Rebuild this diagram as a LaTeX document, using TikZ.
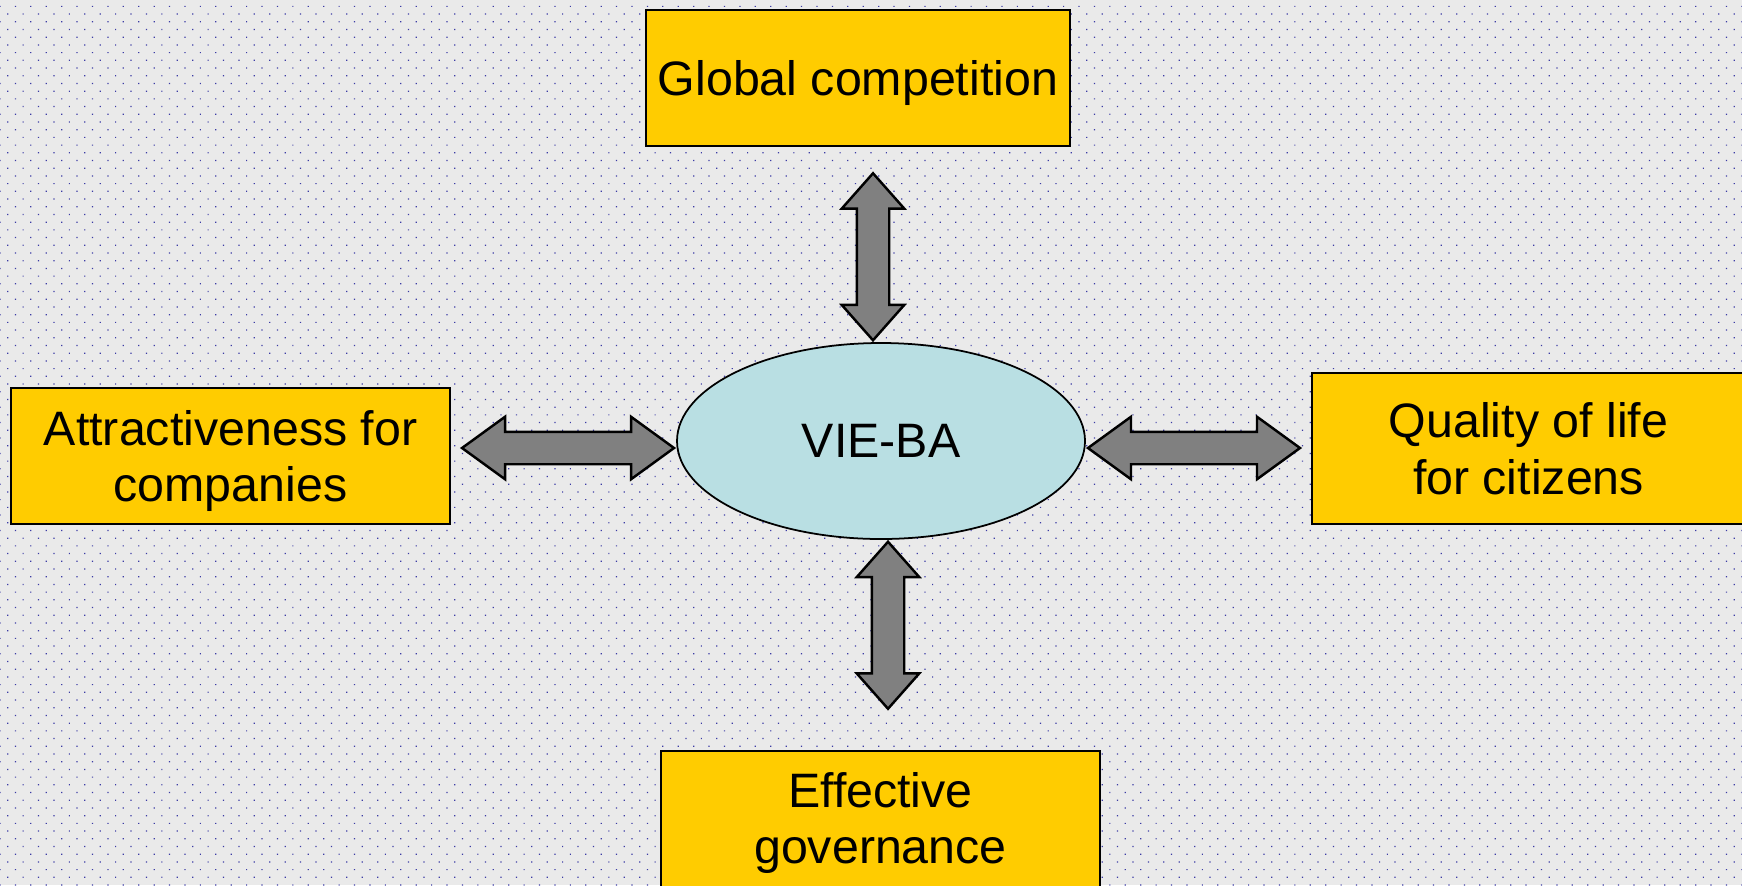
\documentclass[tikz,border=0pt]{standalone}
\usepackage{fontspec}
\setmainfont{Liberation Sans}
\usetikzlibrary{shapes.geometric}
\usetikzlibrary{shapes.arrows}
\usetikzlibrary{patterns.meta}
\definecolor{boxyellow}{RGB}{255,204,0}
\definecolor{hubblue}{RGB}{185,223,227}
\definecolor{paper}{RGB}{234,234,234}
\definecolor{dotblue}{RGB}{60,60,165}

\begin{document}
\begin{tikzpicture}[
      every node/.style={align=center,font=\fontsize{13.75pt}{16.2pt}\selectfont},
      topic/.style={shape=rectangle,draw,line width=0.6pt,fill=boxyellow,inner sep=0pt,minimum width=4.39cm,minimum height=1.36cm},
      hub/.style={shape=ellipse,draw,line width=0.5pt,fill=hubblue,inner sep=0pt,minimum width=4.08cm,minimum height=1.96cm},
      link/.style={shape=double arrow,draw,line width=0.7pt,fill=gray,inner xsep=0pt,inner ysep=0.15cm,minimum width=0.6cm,double arrow head extend=0.15cm},
      uplink/.style={link,rotate=90,minimum height=1.67cm,double arrow tip angle=83},
      sidelink/.style={link,minimum height=2.12cm,double arrow tip angle=72}]
          \useasboundingbox (0,0) rectangle (17.42,8.85);
          \clip (0,0) rectangle (17.42,8.85);
          \fill[paper] (0,0) rectangle (17.42,8.85);
          \fill[pattern={Dots[distance=1.09mm,radius=0.085mm,angle=45]},pattern color=dotblue] (0,0) rectangle (17.42,8.85);

          \node[hub] (vieba) at (8.81,4.44) {VIE-BA};
          \node[topic,minimum width=4.24cm,text depth=0pt] (global) at (8.58,8.07) {Global competition};
          \node[topic,text depth=0pt] (companies) at (2.305,4.29) {Attractiveness for\\companies};
          \node[topic,minimum width=4.33cm,minimum height=1.51cm] (citizens) at (15.285,4.365) {Quality of life\\for citizens};
          \node[topic,minimum height=1.44cm] (governance) at (8.805,0.62) {Effective\\governance};

          \node[uplink,anchor=tip 2] (toglobal) at ([xshift=-0.8mm]vieba.north) {};
          \node[uplink,anchor=tip 1] (togovernance) at ([xshift=0.7mm]vieba.south) {};
          \node[sidelink,anchor=tip 1] (tocompanies) at ([yshift=-0.7mm]vieba.west) {};
          \node[sidelink,anchor=tip 2] (tocitizens) at ([yshift=-0.7mm]vieba.east) {};
    \end{tikzpicture}
\end{document}
